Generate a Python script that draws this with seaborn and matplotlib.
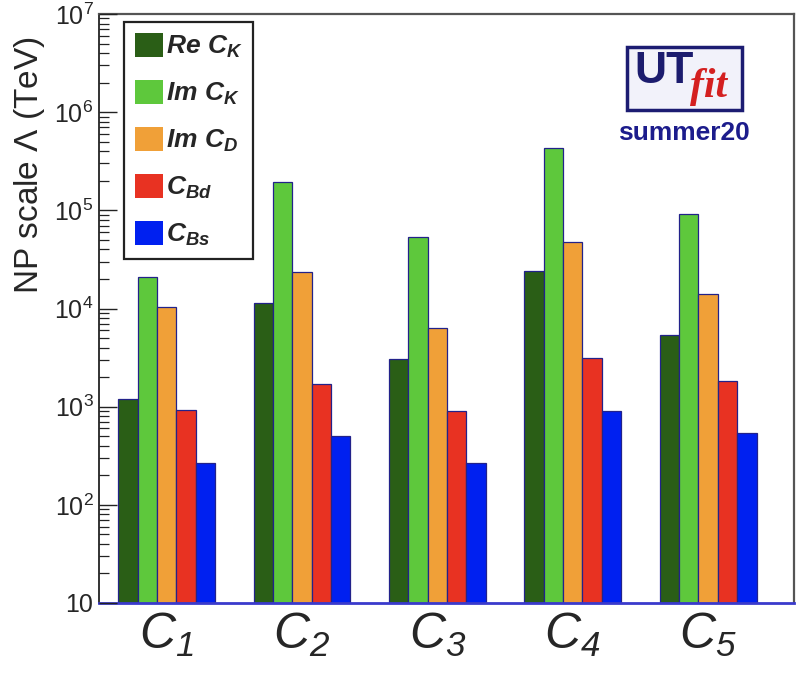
import numpy as np
import pandas as pd
import matplotlib
matplotlib.use("Agg")
import matplotlib.pyplot as plt
import seaborn as sns
from matplotlib.patches import Rectangle
from matplotlib.ticker import LogLocator, NullFormatter

# ---------------- data ----------------
operators = ["C1", "C2", "C3", "C4", "C5"]
operator_labels = [r"$\mathregular{C_{1}}$", r"$\mathregular{C_{2}}$", r"$\mathregular{C_{3}}$",
                   r"$\mathregular{C_{4}}$", r"$\mathregular{C_{5}}$"]
coefficients = [r"$\mathregular{Re\ C_{K}}$", r"$\mathregular{Im\ C_{K}}$", r"$\mathregular{Im\ C_{D}}$",
                r"$\mathregular{C_{Bd}}$", r"$\mathregular{C_{Bs}}$"]
re_ck = [1190, 11300, 3060, 24300, 5370]
im_ck = [20800, 196000, 53800, 434000, 91200]
im_cd = [10300, 23700, 6370, 47200, 14100]
c_bd = [925, 1700, 904, 3110, 1840]
c_bs = [265, 506, 265, 904, 535]
ytick_values = [10, 1e2, 1e3, 1e4, 1e5, 1e6, 1e7]
ytick_labels = ["10", r"$\mathregular{10^{2}}$", r"$\mathregular{10^{3}}$", r"$\mathregular{10^{4}}$",
                r"$\mathregular{10^{5}}$", r"$\mathregular{10^{6}}$", r"$\mathregular{10^{7}}$"]
colors = ["#2a5e16", "#5ec83c", "#f0a038", "#e83222", "#0020f0"]

series = [re_ck, im_ck, im_cd, c_bd, c_bs]
rows = []
for coef, vals in zip(coefficients, series):
    for op, v in zip(operators, vals):
        rows.append({"operator": op, "coefficient": coef, "value": v})
df = pd.DataFrame(rows)

# ---------------- style ----------------
sns.set_theme(style="white")
plt.rcParams["font.family"] = ["Liberation Sans", "DejaVu Sans"]
plt.rcParams["mathtext.fontset"] = "custom"
plt.rcParams["mathtext.rm"] = "Liberation Sans"
plt.rcParams["mathtext.it"] = "Liberation Sans:italic"
plt.rcParams["mathtext.bf"] = "Liberation Sans:bold"

W, H = 812, 678
fig = plt.figure(figsize=(W / 100, H / 100), dpi=100)
ax = fig.add_axes([99 / W, 1 - 603 / H, 695 / W, 589 / H])

sns.barplot(data=df, x="operator", y="value", hue="coefficient",
            order=operators, hue_order=coefficients, palette=colors,
            width=0.715, edgecolor="#22228a", linewidth=0.9, saturation=1,
            errorbar=None, ax=ax)
ax.set_yscale("log", nonpositive="clip")

ax.set_xlim(-0.5, 4.634)
ax.set_ylim(10, 1e7)

# y axis
ax.set_yticks(ytick_values)
ax.set_yticklabels(ytick_labels, fontsize=18)
ax.yaxis.set_minor_locator(LogLocator(base=10, subs=np.arange(2, 10)))
ax.yaxis.set_minor_formatter(NullFormatter())
ax.tick_params(axis="y", which="major", direction="in", length=13, width=1.0,
               color="#222222", pad=4, left=True, right=False)
ax.tick_params(axis="y", which="minor", direction="in", length=7, width=0.9,
               color="#222222", left=True, right=False)
ax.set_ylabel(r"NP scale $\mathregular{\Lambda}$ (TeV)", fontsize=24)
ax.yaxis.label.set_va("center")
ax.yaxis.set_label_coords(-0.0993, 0.7436)

# x axis
ax.set_xticks(range(len(operators)))
ax.set_xticklabels(operator_labels, fontsize=36, style="italic")
ax.tick_params(axis="x", length=0, pad=6)
ax.set_xlabel("")

for s in ["top", "right"]:
    ax.spines[s].set_color("#555555")
    ax.spines[s].set_linewidth(1.6)
ax.spines["left"].set_color("#333333")
ax.spines["left"].set_linewidth(1.4)
ax.spines["bottom"].set_color("#3a3acc")
ax.spines["bottom"].set_linewidth(2.0)
ax.set_axisbelow(False)

# legend
handles, labels = ax.get_legend_handles_labels()
for h in handles:
    h.set_edgecolor("none")
leg = ax.legend(handles, labels, loc="upper left",
                bbox_to_anchor=((124 - 99) / 695, (603 - 22) / 589),
                borderaxespad=0, frameon=True, fancybox=False, framealpha=1,
                edgecolor="#222222",
                prop={"family": "Liberation Sans", "weight": "bold", "style": "italic", "size": 19},
                handlelength=1.06, handleheight=1.06, handletextpad=0.12,
                labelspacing=0.74, borderpad=0.4)
leg.get_frame().set_linewidth(1.6)

# UTfit logo
fig.patches.append(Rectangle((627 / W, 1 - 110 / H), (742 - 627) / W, (110 - 47) / H,
                             transform=fig.transFigure, facecolor="#f2f2fa",
                             edgecolor="#1c1c72", linewidth=2.5, zorder=5))
fig.text(634 / W, 1 - 83 / H, "UT", fontsize=32, fontweight="bold", color="#1c1c6e",
         ha="left", va="baseline", zorder=6)
fig.text(690 / W, 1 - 97 / H, "fit", fontsize=30, fontweight="bold", style="italic",
         family="Liberation Serif", color="#d42020", ha="left", va="baseline", zorder=6)
fig.text(684 / W, 1 - 133 / H, "summer20", fontsize=19, fontweight="bold", color="#1c1c8c",
         ha="center", va="center", zorder=6)

fig.savefig("out.png", dpi=100)
